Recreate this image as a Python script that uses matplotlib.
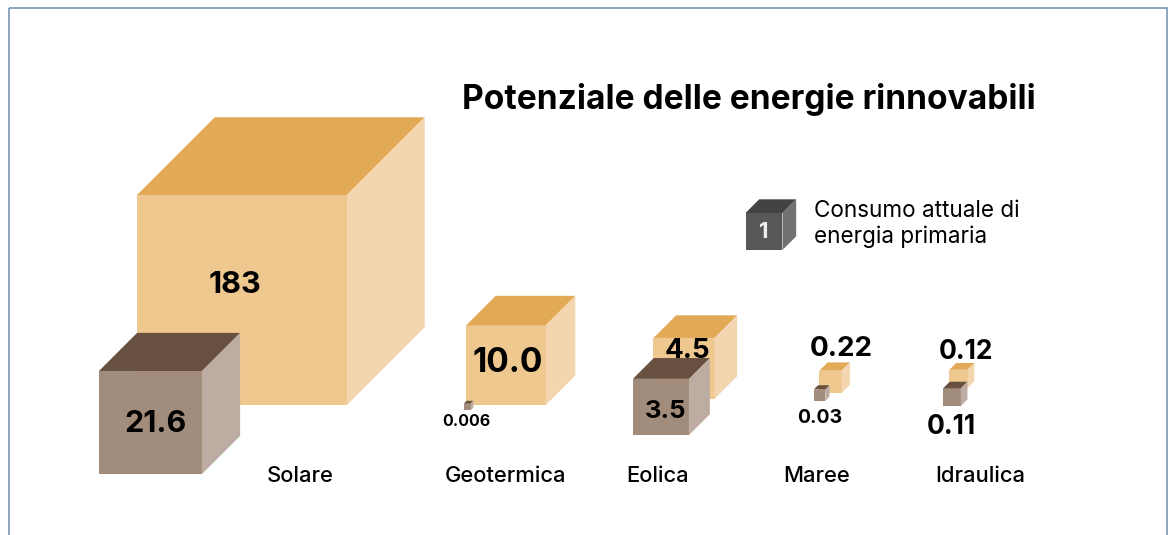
import numpy as np
from matplotlib import pyplot as plt
from matplotlib.patches import Rectangle

plt.rcParams['font.family'] = ['Inter', 'DejaVu Sans']

title = 'Potenziale delle energie rinnovabili'
sources = ['Solare', 'Geotermica', 'Eolica', 'Maree', 'Idraulica']
potential = [183, 10.0, 4.5, 0.22, 0.12]
potential_labels = ['183', '10.0', '4.5', '0.22', '0.12']
consumption = [21.6, 0.006, 3.5, 0.03, 0.11]
consumption_labels = ['21.6', '0.006', '3.5', '0.03', '0.11']
legend_value = 1
legend_lines = 'Consumo attuale di\nenergia primaria'

# layout in pixels, cubes are placed by centre of front face bottom edge
pot_x = [242, 506, 684, 830.5, 958.5]
pot_y = [405, 405, 399, 393, 388]
con_x = [150.5, 467.5, 661, 819.5, 952]
con_y = [474, 410, 435, 401, 406]
pot_text = [(235, 285, 22), (508, 363, 24), (687, 351, 20), (841, 349, 20), (966, 352, 19)]
con_text = [(156, 424, 22), (466, 422, 11.5), (665, 411, 18.5), (820, 418, 14), (951, 427, 19)]
name_x = [300, 506, 658, 817, 980]

TAN = ('#EFC88F', '#E2A957', '#F3D5B0')
BROWN = ('#A28D7D', '#675040', '#BCACA1')
GREY = ('#58585A', '#434345', '#707173')

side_k = 210 / np.cbrt(183)  # edge length goes with the cube root, so volume = value
depth_ratio = 0.37


def draw_cube(ax, value, xc, y0, cols):
    s = side_k * np.cbrt(value)
    d = depth_ratio * s
    x0 = xc - s / 2
    x1 = xc + s / 2
    y1 = y0 - s
    ax.fill([x0, x1, x1, x0], [y0, y0, y1, y1], color=cols[0], lw=0)
    ax.fill([x0, x1, x1 + d, x0 + d], [y1, y1, y1 - d, y1 - d], color=cols[1], lw=0)
    ax.fill([x1, x1 + d, x1 + d, x1], [y0, y0 - d, y1 - d, y1], color=cols[2], lw=0)


fig = plt.figure(figsize=(11.76, 5.35), dpi=100)
ax = fig.add_axes([0, 0, 1, 1])
ax.set_xlim(0, 1176)
ax.set_ylim(535, 0)
ax.axis('off')

ax.add_patch(Rectangle((9, 8), 1158, 540, fill=False, ec='#6F8BAF', lw=1.1))

ax.text(748.5, 99.5, title, fontsize=24.1, fontweight='bold', ha='center', va='center')

for i in range(len(sources)):
    draw_cube(ax, potential[i], pot_x[i], pot_y[i], TAN)
    draw_cube(ax, consumption[i], con_x[i], con_y[i], BROWN)
    tx, ty, fs = pot_text[i]
    ax.text(tx, ty, potential_labels[i], fontsize=fs, fontweight='bold', ha='center', va='center')
    tx, ty, fs = con_text[i]
    ax.text(tx, ty, consumption_labels[i], fontsize=fs, fontweight='bold', ha='center', va='center')
    ax.text(name_x[i], 476.5, sources[i], fontsize=15.8, fontweight='medium', ha='center', va='center')

draw_cube(ax, legend_value, 764, 250, GREY)
ax.text(764, 232, str(legend_value), color='#EDEDED', fontsize=16, fontweight='bold', ha='center', va='center')
ax.text(814, 224, legend_lines, fontsize=16.2, ha='left', va='center', linespacing=1.25)

fig.savefig('out.png', dpi=100)
